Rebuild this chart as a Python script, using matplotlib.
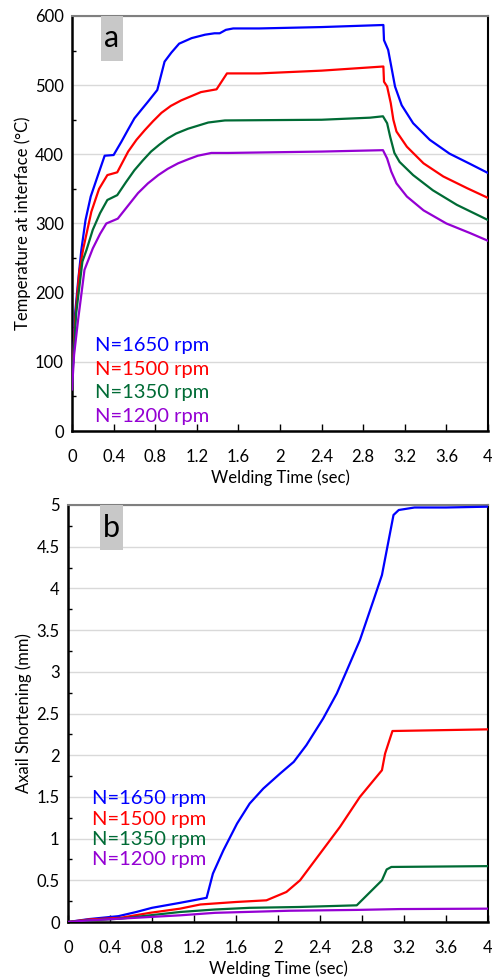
import numpy as np
from matplotlib import pyplot as plt
from matplotlib.patches import Rectangle
from matplotlib.ticker import MultipleLocator

plt.rcParams['font.family'] = ['Lato', 'DejaVu Sans']

labels = ['N=1650 rpm', 'N=1500 rpm', 'N=1350 rpm', 'N=1200 rpm']
colors = ['#0000ff', '#ff0000', '#006b35', '#9400d3']

# temperature at interface (panel a)
t_1650 = [0, 0.01, 0.03, 0.058, 0.09, 0.13, 0.18, 0.25, 0.314, 0.40, 0.474, 0.54, 0.60, 0.67, 0.73, 0.82,
          0.89, 0.955, 1.03, 1.15, 1.28, 1.37, 1.42, 1.48, 1.55, 1.8, 2.4, 2.994, 3.0, 3.04, 3.07, 3.106,
          3.17, 3.28, 3.44, 3.63, 3.83, 4.0]
T_1650 = [72, 100, 170, 215, 262, 305, 339, 370, 398, 399, 418, 436, 452, 465, 476, 493,
          534, 547, 560, 568, 573, 575, 575, 580, 582, 582, 584, 587, 565, 551, 527, 498,
          471, 445, 421, 401, 386, 373]
t_1500 = [0, 0.01, 0.03, 0.07, 0.106, 0.186, 0.26, 0.34, 0.435, 0.54, 0.62, 0.70, 0.78, 0.86, 0.95, 1.05,
          1.24, 1.39, 1.49, 1.8, 2.4, 2.994, 3.0, 3.03, 3.065, 3.09, 3.12, 3.22, 3.38, 3.57, 3.80, 4.0]
T_1500 = [72, 100, 160, 230, 262, 317, 350, 370, 374, 404, 421, 435, 448, 460, 470, 478,
          490, 494, 517, 517, 521, 527, 505, 498, 474, 450, 433, 411, 387, 368, 351, 337]
t_1350 = [0, 0.01, 0.04, 0.1, 0.14, 0.2, 0.27, 0.34, 0.435, 0.52, 0.60, 0.68, 0.76, 0.84, 0.92, 1.0,
          1.115, 1.31, 1.47, 2.4, 2.865, 2.99, 3.03, 3.06, 3.10, 3.15, 3.28, 3.47, 3.70, 4.0]
T_1350 = [66, 95, 170, 245, 262, 291, 315, 334, 341, 360, 377, 391, 404, 414, 423, 430,
          437, 446, 449, 450, 453, 455, 445, 425, 402, 389, 370, 348, 327, 305]
t_1200 = [0, 0.02, 0.058, 0.12, 0.2, 0.27, 0.33, 0.44, 0.54, 0.635, 0.73, 0.83, 0.92, 1.02, 1.12, 1.21,
          1.34, 1.5, 2.4, 2.99, 3.03, 3.07, 3.12, 3.22, 3.38, 3.60, 3.83, 4.0]
T_1200 = [60, 110, 160, 233, 264, 285, 300, 307, 326, 344, 358, 370, 379, 387, 393, 398,
          402, 402, 404, 406, 394, 375, 358, 339, 319, 300, 286, 275]

# axial shortening (panel b)
s_t1650 = [0, 0.2, 0.48, 0.65, 0.8, 1.067, 1.32, 1.38, 1.48, 1.61, 1.73, 1.86, 2.02, 2.15, 2.27, 2.43,
           2.56, 2.65, 2.78, 2.91, 2.99, 3.10, 3.15, 3.3, 3.6, 4.0]
s_1650 = [0, 0.035, 0.07, 0.12, 0.17, 0.23, 0.29, 0.58, 0.86, 1.18, 1.42, 1.60, 1.78, 1.92, 2.12, 2.44,
          2.74, 3.0, 3.38, 3.86, 4.16, 4.88, 4.94, 4.97, 4.97, 4.98]
s_t1500 = [0, 0.2, 0.5, 0.78, 1.067, 1.26, 1.6, 1.89, 2.08, 2.21, 2.40, 2.59, 2.78, 2.99, 3.02, 3.09, 4.0]
s_1500 = [0, 0.03, 0.05, 0.11, 0.16, 0.21, 0.24, 0.26, 0.36, 0.50, 0.82, 1.14, 1.50, 1.82, 2.02, 2.29, 2.31]
s_t1350 = [0, 0.2, 0.5, 0.78, 1.067, 1.4, 1.73, 2.2, 2.75, 2.99, 3.035, 3.08, 4.0]
s_1350 = [0, 0.02, 0.04, 0.08, 0.12, 0.15, 0.17, 0.18, 0.20, 0.50, 0.63, 0.66, 0.67]
s_t1200 = [0, 0.2, 0.5, 0.78, 1.067, 1.4, 2.11, 2.75, 3.16, 4.0]
s_1200 = [0, 0.02, 0.04, 0.06, 0.08, 0.11, 0.135, 0.145, 0.155, 0.16]

fig = plt.figure(figsize=(4.92, 9.8), dpi=100)
ax1 = fig.add_axes([72/492, 1-431/980, 416/492, 415/980])
ax2 = fig.add_axes([68/492, 1-922/980, 420/492, 417/980])

for t, v, c in zip([t_1650, t_1500, t_1350, t_1200], [T_1650, T_1500, T_1350, T_1200], colors):
    ax1.plot(t, v, color=c, lw=1.6, zorder=3)
for t, v, c in zip([s_t1650, s_t1500, s_t1350, s_t1200], [s_1650, s_1500, s_1350, s_1200], colors):
    ax2.plot(t, v, color=c, lw=1.6, zorder=3)

def style(ax, ymax, ystep, ylabel, tag, box, leg_x, leg_y):
    ax.set_xlim(0, 4)
    ax.set_ylim(0, ymax)
    ax.yaxis.set_major_locator(MultipleLocator(ystep))
    ax.yaxis.set_minor_locator(MultipleLocator(ystep/2))
    ax.set_xticks(np.arange(0, 4.01, 0.4))
    ax.set_xticklabels(['%g' % round(v, 1) for v in np.arange(0, 4.01, 0.4)])
    ax.yaxis.grid(True, color='#d9d9d9', lw=1.0)
    ax.set_axisbelow(True)
    ax.tick_params(axis='x', direction='in', length=5, width=1, labelsize=12, pad=13)
    ax.tick_params(axis='y', which='major', length=0, labelsize=12, pad=6)
    ax.tick_params(axis='y', which='minor', direction='in', length=3, width=1)
    for s in ['left', 'bottom']:
        ax.spines[s].set_linewidth(1.8)
        ax.spines[s].set_color('black')
    ax.spines['right'].set_linewidth(1.5)
    ax.spines['top'].set_linewidth(1.5)
    ax.spines['top'].set_color('#7f7f7f')
    ax.set_xlabel('Welding Time (sec)', fontsize=12, labelpad=3)
    ax.set_ylabel(ylabel, fontsize=12, labelpad=3)
    ax.add_patch(Rectangle((box[0], 1-box[2]), box[1]-box[0], box[2], transform=ax.transAxes,
                           facecolor='#c8c8c8', edgecolor='none', zorder=4, clip_on=False))
    ax.text((box[0]+box[1])/2, 1-box[2]/2, tag, transform=ax.transAxes, fontsize=22,
            ha='center', va='center', zorder=5)
    for lab, c, y in zip(labels, colors, leg_y):
        ax.text(leg_x, y, lab, color=c, fontsize=14.5, transform=ax.transAxes, ha='left', va='center')

style(ax1, 600, 100, 'Temperature at interface (°C)', 'a', (0.0697, 0.1226, 0.108),
      0.055, [0.205, 0.149, 0.092, 0.034])
style(ax2, 5, 0.5, 'Axail Shortening (mm)', 'b', (0.076, 0.131, 0.108),
      0.057, [0.297, 0.247, 0.199, 0.151])
ax2.set_yticks(np.arange(0, 5.01, 0.5))
ax2.set_yticklabels(['%g' % round(v, 1) for v in np.arange(0, 5.01, 0.5)])

fig.savefig('out.png', dpi=100)
